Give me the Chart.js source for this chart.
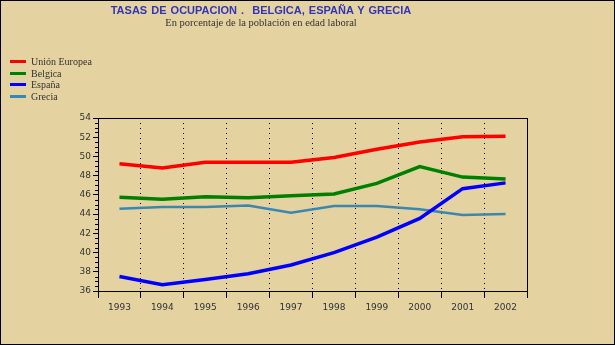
<!DOCTYPE html>
<html>
<head>
<meta charset="utf-8">
<script src="https://cdn.jsdelivr.net/npm/chart.js@4"></script>
<style>
  html, body { margin: 0; padding: 0; background: #e4d2a0; }
  #wrap { position: relative; width: 615px; height: 345px; overflow: hidden; }
  #frame { position: absolute; left: 0; top: 0; width: 613px; height: 343px; border: 1px solid #000; pointer-events: none; }
  #title { position: absolute; left: 0; width: 522px; top: 4px; text-align: center; font: bold 11px "Liberation Sans", Arial, sans-serif; color: #3434b8; word-spacing: 1px; }
  #subtitle { position: absolute; left: 0; width: 522px; top: 17px; text-align: center; font: 10.5px "Liberation Serif", serif; color: #333; }
  #legend { position: absolute; left: 10px; top: 56px; font: 10px "Liberation Serif", serif; color: #333; }
  .item { height: 11.7px; line-height: 11.7px; position: relative; }
  .item span.sw { position: absolute; left: 0; top: 4px; width: 16px; height: 3px; }
  .item span.tx { position: absolute; left: 21px; top: 0; white-space: nowrap; }
  canvas { position: absolute; left: 0; top: 0; }
</style>
</head>
<body>
<div id="wrap">
  <canvas id="chart" width="615" height="345"></canvas>
  <div id="title">TASAS DE OCUPACION .&nbsp; BELGICA, ESPAÑA Y GRECIA</div>
  <div id="subtitle">En porcentaje de la población en edad laboral</div>
  <div id="legend"></div>
  <div id="frame"></div>
</div>
<script>
const years = ['1993', '1994', '1995', '1996', '1997', '1998', '1999', '2000', '2001', '2002'];
const unionEuropea = [49.25, 48.8, 49.4, 49.4, 49.4, 49.9, 50.75, 51.5, 52.05, 52.1];
const belgica = [45.75, 45.55, 45.8, 45.7, 45.9, 46.1, 47.2, 48.95, 47.85, 47.65];
const espana = [37.5, 36.65, 37.2, 37.8, 38.7, 40.0, 41.6, 43.55, 46.65, 47.25];
const grecia = [44.55, 44.75, 44.75, 44.9, 44.15, 44.85, 44.85, 44.5, 43.9, 44.0];
const yTicks = [36, 38, 40, 42, 44, 46, 48, 50, 52, 54];

const series = [
  { label: 'Unión Europea', data: unionEuropea, color: '#ff0000', width: 3.5 },
  { label: 'Belgica', data: belgica, color: '#008000', width: 3.5 },
  { label: 'España', data: espana, color: '#0000ff', width: 3.5 },
  { label: 'Grecia', data: grecia, color: '#3a88b2', width: 2.5 }
];

// legend as html
const legend = document.getElementById('legend');
series.forEach(function (s) {
  const row = document.createElement('div');
  row.className = 'item';
  row.innerHTML = '<span class="sw" style="background:' + s.color + '"></span><span class="tx">' + s.label + '</span>';
  legend.appendChild(row);
});

// box around plot + minor ticks on y axis
const framePlugin = {
  id: 'framePlugin',
  afterDraw: function (chart) {
    const ctx = chart.ctx;
    const a = chart.chartArea;
    const y = chart.scales.y;
    ctx.save();
    ctx.strokeStyle = '#000';
    ctx.lineWidth = 1;
    ctx.setLineDash([]);
    ctx.strokeRect(Math.round(a.left) + 0.5, Math.round(a.top) + 0.5, Math.round(a.right - a.left), Math.round(a.bottom - a.top));
    ctx.beginPath();
    for (let v = yTicks[0]; v <= yTicks[yTicks.length - 1]; v += 0.5) {
      if (v % 2 === 0) continue;
      const py = Math.round(y.getPixelForValue(v)) + 0.5;
      ctx.moveTo(a.left - 3, py);
      ctx.lineTo(a.left, py);
    }
    ctx.stroke();
    ctx.restore();
  }
};

new Chart(document.getElementById('chart').getContext('2d'), {
  type: 'line',
  data: {
    labels: years,
    datasets: series.map(function (s) {
      return {
        label: s.label,
        data: s.data,
        borderColor: s.color,
        backgroundColor: s.color,
        borderWidth: s.width,
        pointRadius: 0,
        tension: 0,
        fill: false
      };
    })
  },
  options: {
    responsive: false,
    animation: false,
    layout: { padding: { left: 68, right: 88, top: 118, bottom: 10 } },
    plugins: {
      legend: { display: false },
      title: { display: false },
      tooltip: { enabled: false }
    },
    scales: {
      x: {
        offset: true,
        afterFit: function (scale) { scale.height = 44; },
        grid: {
          offset: true,
          color: '#000',
          lineWidth: 1,
          tickLength: 7,
          tickBorderDash: [],
          drawOnChartArea: true
        },
        border: { display: true, color: '#000', width: 1, dash: [1, 4] },
        ticks: {
          color: '#333',
          padding: 4,
          maxRotation: 0,
          font: { family: 'DejaVu Sans', size: 9 }
        }
      },
      y: {
        min: 36,
        max: 54,
        afterFit: function (scale) { scale.width = 30; },
        afterBuildTicks: function (scale) {
          scale.ticks = yTicks.map(function (v) { return { value: v }; });
        },
        grid: {
          color: '#000',
          drawOnChartArea: false,
          tickLength: 5
        },
        border: { display: true, color: '#000', width: 1 },
        ticks: {
          color: '#333',
          padding: 2,
          font: { family: 'DejaVu Sans', size: 9 }
        }
      }
    }
  },
  plugins: [framePlugin]
});
</script>
</body>
</html>
